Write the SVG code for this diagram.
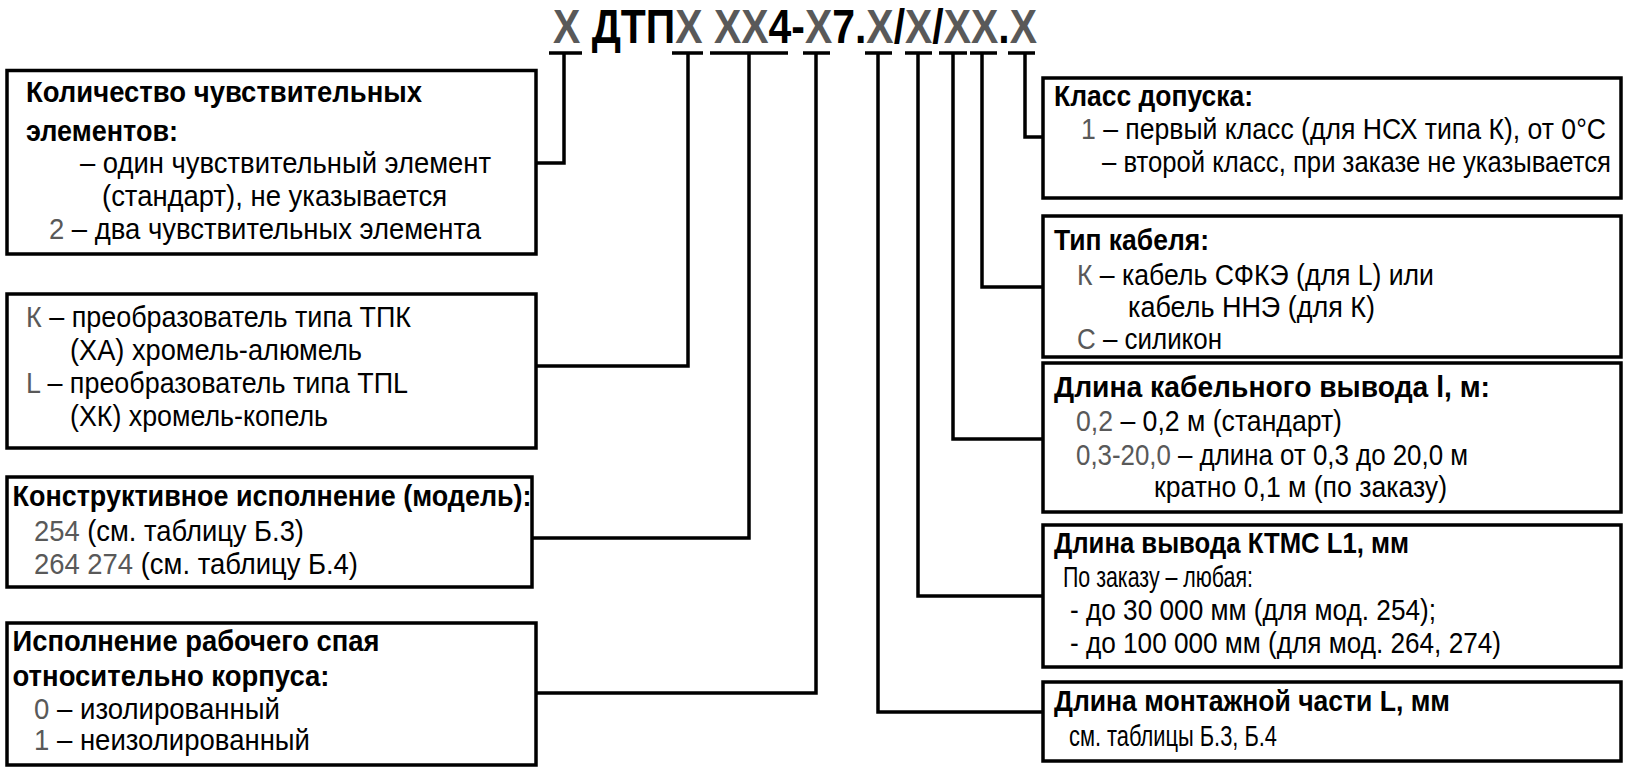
<svg xmlns="http://www.w3.org/2000/svg" width="1627" height="769" viewBox="0 0 1627 769">
<style>
.bx{fill:#fff;stroke:#000;stroke-width:3.5}
.cn{fill:none;stroke:#000;stroke-width:3.5;stroke-linejoin:miter}
.t{font-family:"Liberation Sans Narrow","Liberation Sans",Arial,sans-serif;font-size:30px;fill:#000}
.b{font-weight:bold}
.g{fill:#595959}
.h{font-family:"Liberation Sans Narrow","Liberation Sans",Arial,sans-serif;font-size:49px;font-weight:bold;fill:#000}
</style>
<rect width="1627" height="769" fill="#fff"/>
<g id="code">
<text class="h" x="553" y="43" textLength="484" lengthAdjust="spacingAndGlyphs"><tspan class="g">X</tspan> ДТП<tspan class="g">X</tspan> <tspan class="g">XX</tspan>4-<tspan class="g">X</tspan>7.<tspan class="g">X</tspan>/<tspan class="g">X</tspan>/<tspan class="g">XX</tspan>.<tspan class="g">X</tspan></text>
</g>
<g id="connectors">
<path class="cn" d="M549 53H582M672 53H703M710 53H788M803 53H830M865 53H892M905 53H932M939 53H967M970 53H997M1008 53H1035"/>
<polyline class="cn" points="564,53 564,163 536,163"/>
<polyline class="cn" points="688,53 688,366 536,366"/>
<polyline class="cn" points="749,53 749,538 532,538"/>
<polyline class="cn" points="816,53 816,693 536,693"/>
<polyline class="cn" points="878,53 878,712 1043,712"/>
<polyline class="cn" points="918,53 918,596 1043,596"/>
<polyline class="cn" points="953,53 953,439 1043,439"/>
<polyline class="cn" points="982,53 982,287 1043,287"/>
<polyline class="cn" points="1025,53 1025,137 1043,137"/>
</g>
<g id="n-count">
<rect class="bx" x="7" y="70.5" width="529" height="183.5"/>
<text class="t b" x="26" y="102" textLength="396" lengthAdjust="spacingAndGlyphs">Количество чувствительных</text>
<text class="t b" x="26" y="141" textLength="152" lengthAdjust="spacingAndGlyphs">элементов:</text>
<text class="t" x="80" y="173" textLength="411" lengthAdjust="spacingAndGlyphs">– один чувствительный элемент</text>
<text class="t" x="102" y="206" textLength="345" lengthAdjust="spacingAndGlyphs">(стандарт), не указывается</text>
<text class="t" x="49" y="239" textLength="432" lengthAdjust="spacingAndGlyphs"><tspan class="g">2</tspan> – два чувствительных элемента</text>
</g>
<g id="n-type">
<rect class="bx" x="7" y="294" width="529" height="154"/>
<text class="t" x="26" y="327" textLength="385" lengthAdjust="spacingAndGlyphs"><tspan class="g">К</tspan> – преобразователь типа ТПК</text>
<text class="t" x="70" y="360" textLength="292" lengthAdjust="spacingAndGlyphs">(ХА) хромель-алюмель</text>
<text class="t" x="26" y="393" textLength="382" lengthAdjust="spacingAndGlyphs"><tspan class="g">L</tspan> – преобразователь типа ТПL</text>
<text class="t" x="70" y="426" textLength="258" lengthAdjust="spacingAndGlyphs">(ХК) хромель-копель</text>
</g>
<g id="n-model">
<rect class="bx" x="7" y="477" width="525" height="110"/>
<text class="t b" x="12.5" y="506" textLength="519" lengthAdjust="spacingAndGlyphs">Конструктивное исполнение (модель):</text>
<text class="t" x="34" y="541" textLength="270" lengthAdjust="spacingAndGlyphs"><tspan class="g">254</tspan> (см. таблицу Б.3)</text>
<text class="t" x="34" y="574" textLength="324" lengthAdjust="spacingAndGlyphs"><tspan class="g">264 274</tspan> (см. таблицу Б.4)</text>
</g>
<g id="n-junction">
<rect class="bx" x="7" y="623" width="529" height="142"/>
<text class="t b" x="12.5" y="651" textLength="367" lengthAdjust="spacingAndGlyphs">Исполнение рабочего спая</text>
<text class="t b" x="12.5" y="686" textLength="317" lengthAdjust="spacingAndGlyphs">относительно корпуса:</text>
<text class="t" x="34" y="719" textLength="246" lengthAdjust="spacingAndGlyphs"><tspan class="g">0</tspan> – изолированный</text>
<text class="t" x="34" y="750" textLength="276" lengthAdjust="spacingAndGlyphs"><tspan class="g">1</tspan> – неизолированный</text>
</g>
<g id="n-class">
<rect class="bx" x="1043" y="78" width="578" height="120"/>
<text class="t b" x="1054" y="106" textLength="199" lengthAdjust="spacingAndGlyphs">Класс допуска:</text>
<text class="t" x="1081" y="139" textLength="525" lengthAdjust="spacingAndGlyphs"><tspan class="g">1</tspan> – первый класс (для НСХ типа К), от 0°С</text>
<text class="t" x="1102" y="172" textLength="509" lengthAdjust="spacingAndGlyphs">– второй класс, при заказе не указывается</text>
</g>
<g id="n-cable">
<rect class="bx" x="1043" y="216" width="578" height="141"/>
<text class="t b" x="1054" y="250" textLength="155" lengthAdjust="spacingAndGlyphs">Тип кабеля:</text>
<text class="t" x="1077" y="285" textLength="357" lengthAdjust="spacingAndGlyphs"><tspan class="g">К</tspan> – кабель СФКЭ (для L) или</text>
<text class="t" x="1128" y="317" textLength="247" lengthAdjust="spacingAndGlyphs">кабель ННЭ (для К)</text>
<text class="t" x="1077" y="349" textLength="145" lengthAdjust="spacingAndGlyphs"><tspan class="g">С</tspan> – силикон</text>
</g>
<g id="n-cablelen">
<rect class="bx" x="1043" y="363" width="578" height="149"/>
<text class="t b" x="1054" y="397" textLength="436" lengthAdjust="spacingAndGlyphs">Длина кабельного вывода l, м:</text>
<text class="t" x="1076" y="431" textLength="266" lengthAdjust="spacingAndGlyphs"><tspan class="g">0,2</tspan> – 0,2 м (стандарт)</text>
<text class="t" x="1076" y="465" textLength="392" lengthAdjust="spacingAndGlyphs"><tspan class="g">0,3-20,0</tspan> – длина от 0,3 до 20,0 м</text>
<text class="t" x="1154" y="497" textLength="293" lengthAdjust="spacingAndGlyphs">кратно 0,1 м (по заказу)</text>
</g>
<g id="n-ktms">
<rect class="bx" x="1043" y="525" width="578" height="142"/>
<text class="t b" x="1054" y="553" textLength="355" lengthAdjust="spacingAndGlyphs">Длина вывода КТМС L1, мм</text>
<text class="t" x="1063" y="587" textLength="190" lengthAdjust="spacingAndGlyphs">По заказу – любая:</text>
<text class="t" x="1070" y="620" textLength="366" lengthAdjust="spacingAndGlyphs">- до 30 000 мм (для мод. 254);</text>
<text class="t" x="1070" y="653" textLength="431" lengthAdjust="spacingAndGlyphs">- до 100 000 мм (для мод. 264, 274)</text>
</g>
<g id="n-mount">
<rect class="bx" x="1043" y="682" width="578" height="79"/>
<text class="t b" x="1054" y="711" textLength="396" lengthAdjust="spacingAndGlyphs">Длина монтажной части L, мм</text>
<text class="t" x="1069" y="746" textLength="208" lengthAdjust="spacingAndGlyphs">см. таблицы Б.3, Б.4</text>
</g>
</svg>
